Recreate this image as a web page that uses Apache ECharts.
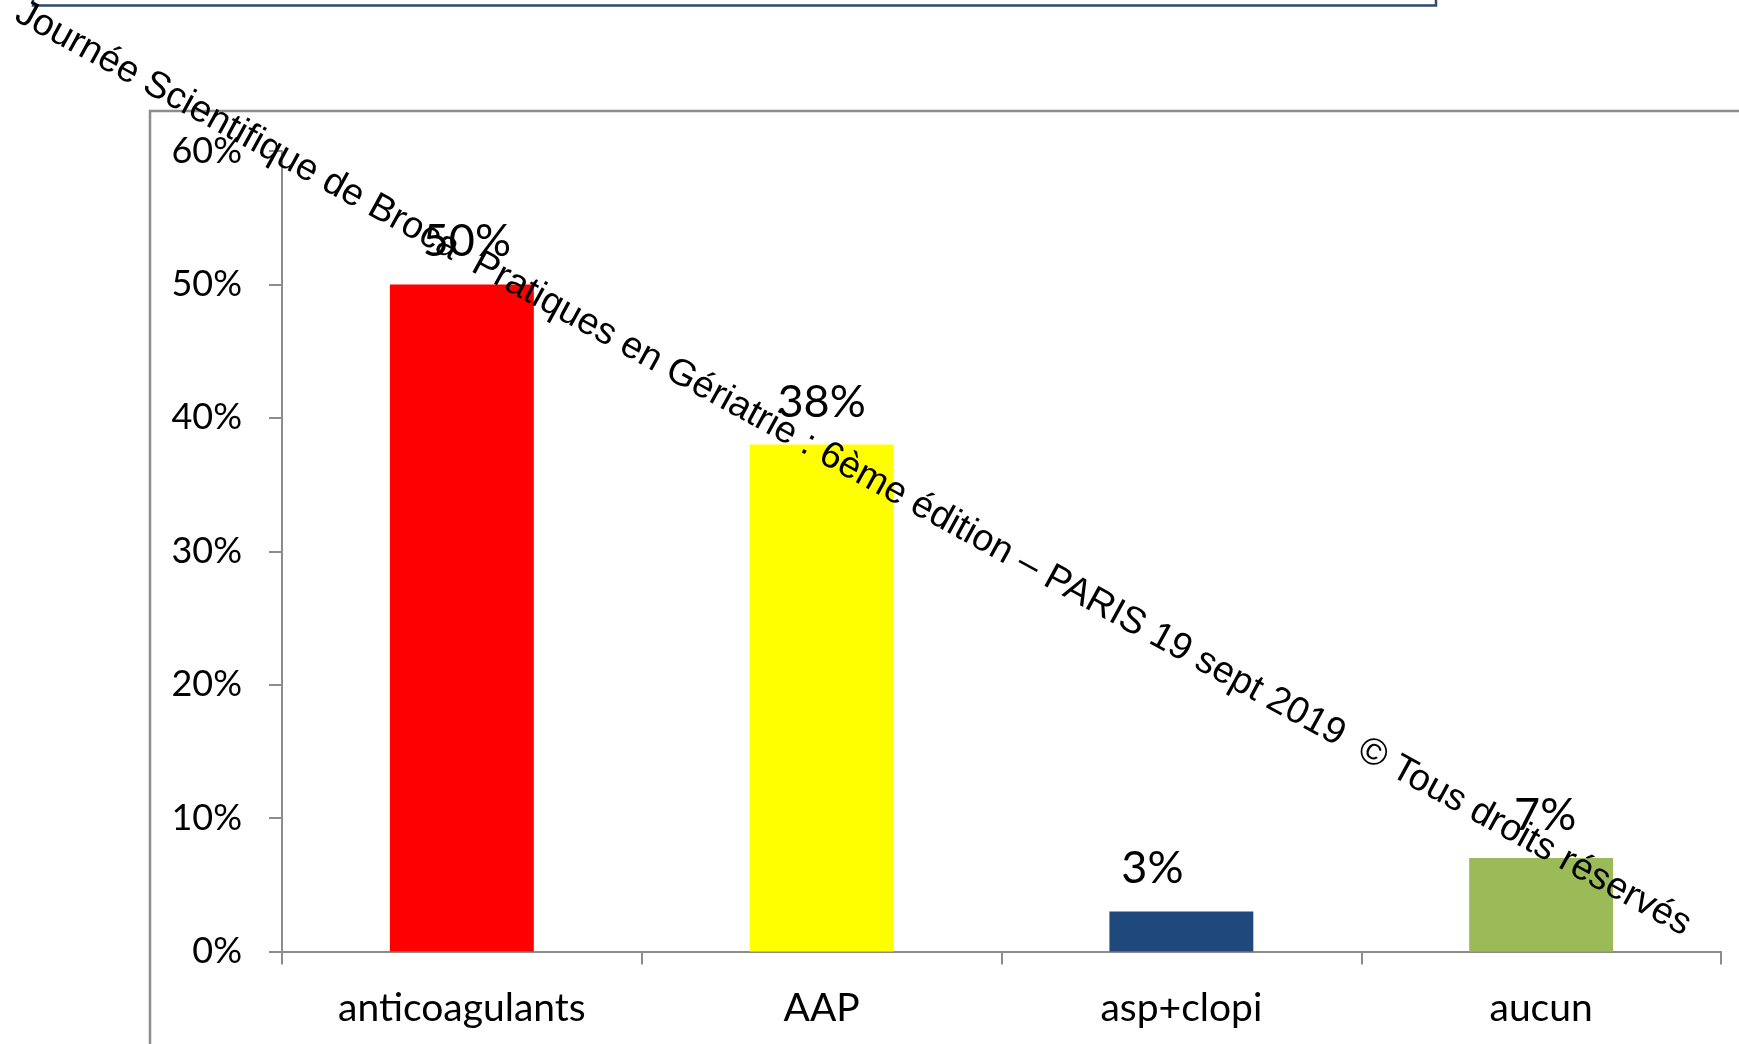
<!DOCTYPE html>
<html>
<head>
<meta charset="utf-8">
<script src="https://cdn.jsdelivr.net/npm/echarts@6/dist/echarts.min.js"></script>
<style>
html,body{margin:0;padding:0;background:#fff;}
#chart{width:1739px;height:1044px;}
</style>
</head>
<body>
<div id="chart"></div>
<script>
const categories = ['anticoagulants', 'AAP', 'asp+clopi', 'aucun'];
const values = [50, 38, 3, 7];
const yTicks = [0, 10, 20, 30, 40, 50, 60];
const watermarkText = 'Journée Scientifique de Broca  Pratiques en Gériatrie : 6ème édition – PARIS 19 sept 2019  © Tous droits réservés';

const barColors = ['#FF0000', '#FFFF00', '#1F497D', '#9BBB59'];
const labelOffsets = [[5, 0], [0, 0], [-29, 0], [4, 0]];
const axisGray = '#8c8c8c';

const chart = echarts.init(document.getElementById('chart'), null, {renderer: 'canvas'});
const angle = -28.75 * Math.PI / 180;

chart.setOption({
  animation: false,
  backgroundColor: '#ffffff',
  grid: {left: 282, right: 18, top: 151, bottom: 92.5, containLabel: false},
  xAxis: {
    type: 'category',
    data: categories,
    axisLine: {show: true, lineStyle: {color: axisGray, width: 2}},
    axisTick: {show: true, length: 13, lineStyle: {color: axisGray, width: 2}},
    axisLabel: {color: '#000', fontFamily: 'Lato', fontSize: 39, margin: 37}
  },
  yAxis: {
    type: 'value',
    min: yTicks[0],
    max: yTicks[yTicks.length - 1],
    interval: 10,
    splitLine: {show: false},
    axisLine: {show: true, lineStyle: {color: axisGray, width: 2}},
    axisTick: {show: true, length: 13, lineStyle: {color: axisGray, width: 2}},
    axisLabel: {color: '#000', fontFamily: 'Lato', fontSize: 36, margin: 40, formatter: '{value}%'}
  },
  series: [{
    type: 'bar',
    barWidth: '40%',
    data: values.map((v, i) => ({
      value: v,
      itemStyle: {color: barColors[i]},
      label: {offset: labelOffsets[i]}
    })),
    label: {
      show: true,
      position: 'top',
      distance: 20,
      color: '#000',
      fontFamily: 'Lato',
      fontSize: 45,
      formatter: '{c}%'
    }
  }],
  graphic: [
    {
      type: 'rect', z: 0,
      shape: {x: 33, y: -10, width: 1403, height: 15.5},
      style: {fill: 'none', stroke: '#2f4b6e', lineWidth: 2.5}
    },
    {
      type: 'polyline', z: 0,
      shape: {points: [[150, 1044], [150, 111], [1739, 111]]},
      style: {fill: 'none', stroke: axisGray, lineWidth: 2.5}
    },
    {
      type: 'text', z: 100,
      x: 27, y: -6,
      rotation: angle,
      style: {
        text: watermarkText,
        fill: '#000',
        font: '37.5px "Liberation Sans"',
        textAlign: 'left',
        textVerticalAlign: 'top'
      }
    }
  ]
});
</script>
</body>
</html>
